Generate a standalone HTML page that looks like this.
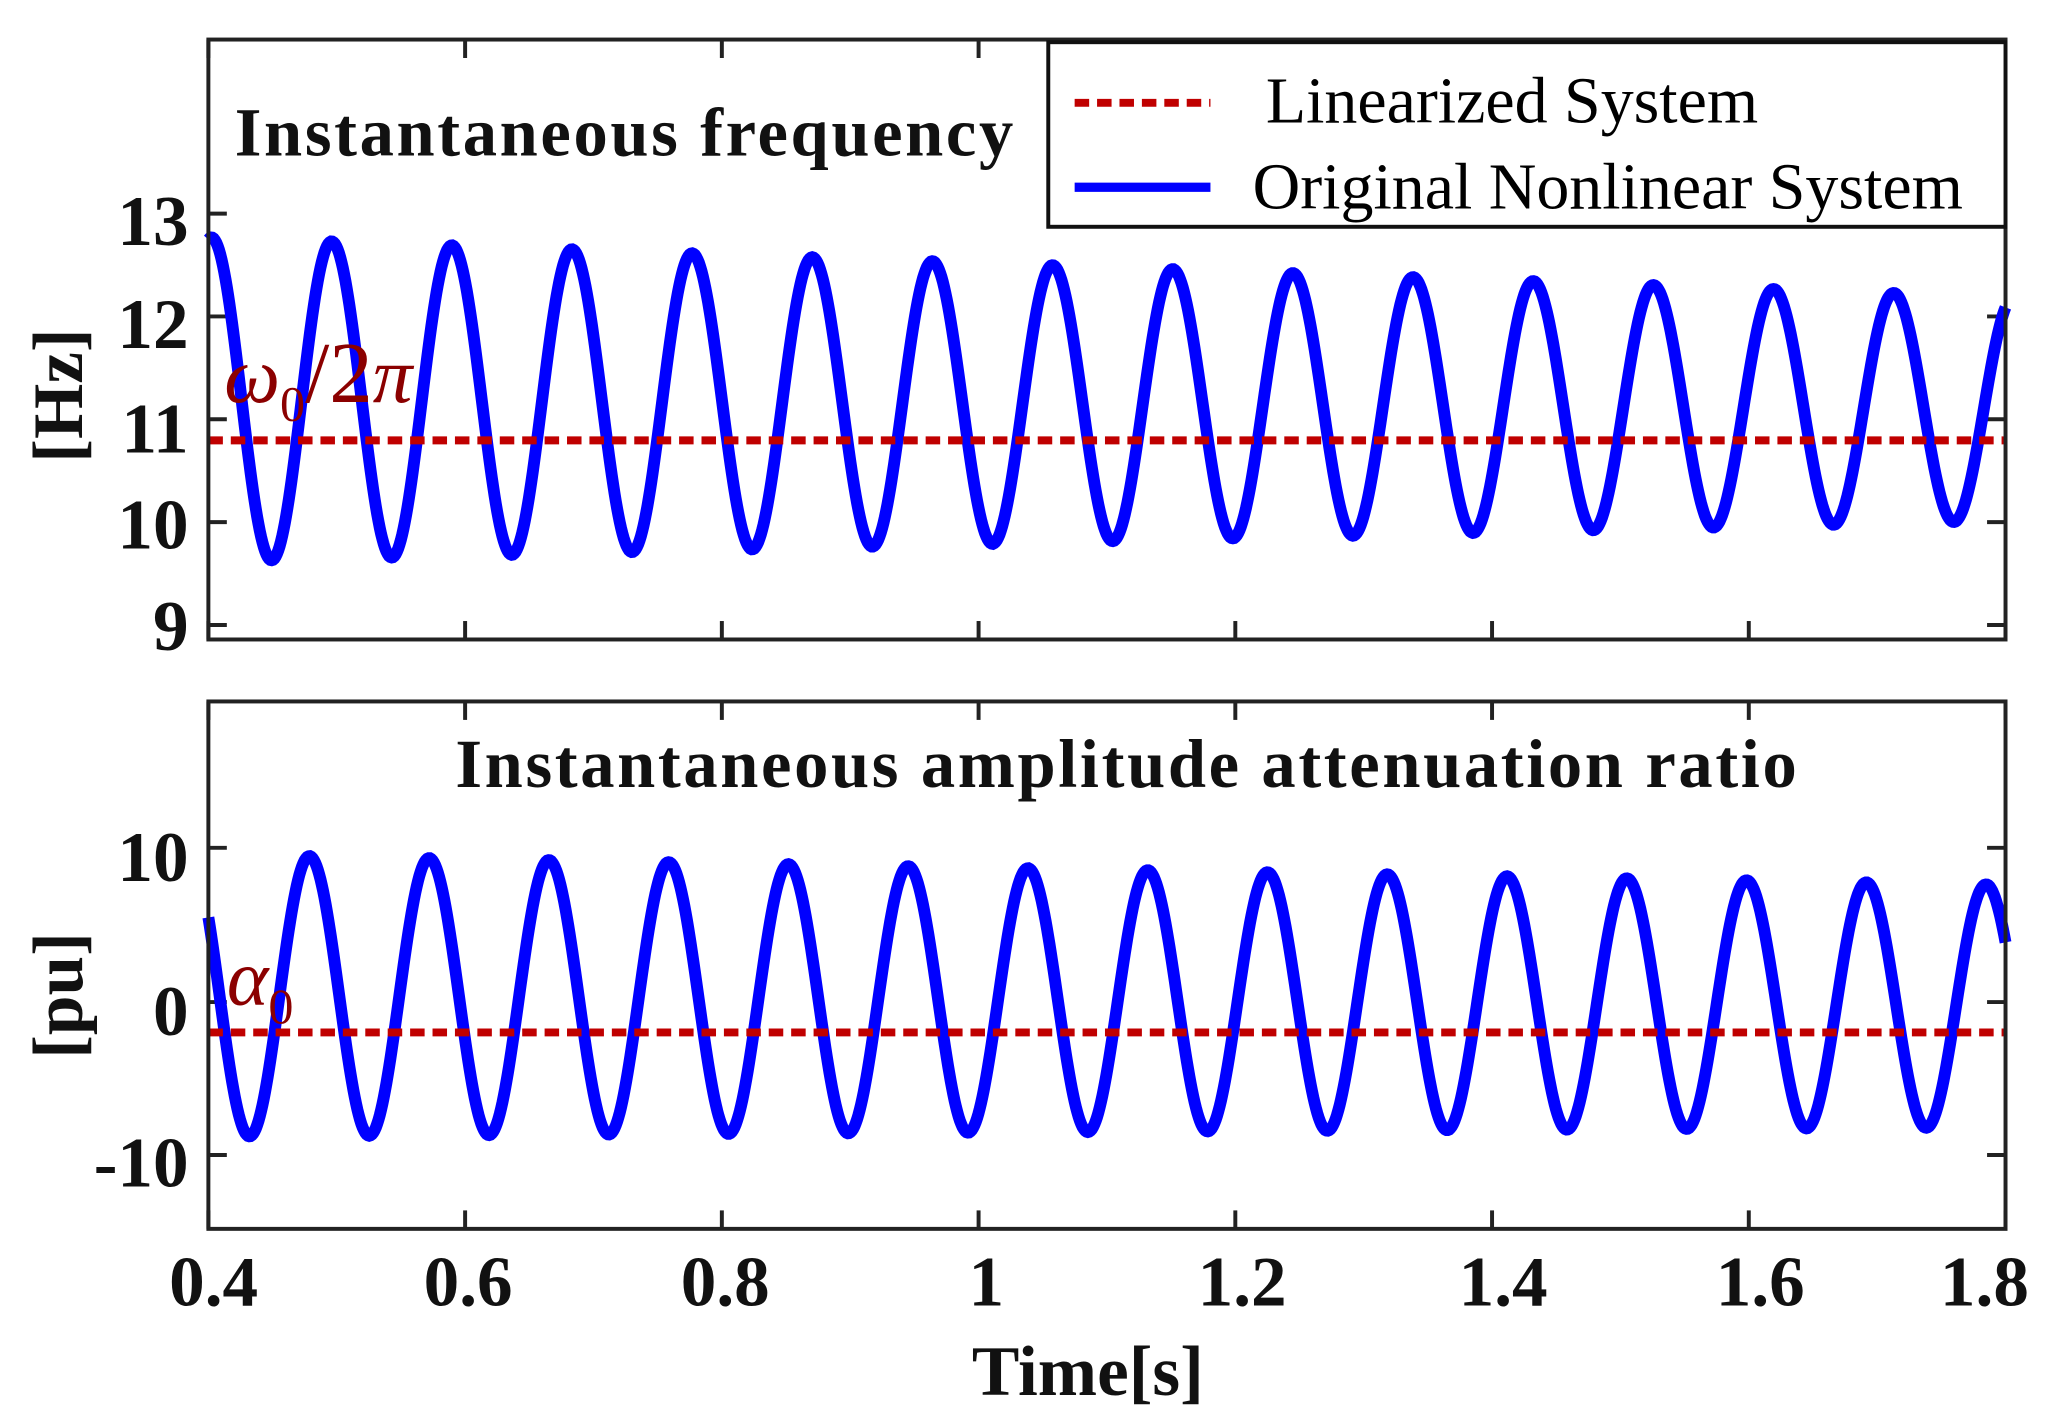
<!DOCTYPE html>
<html><head><meta charset="utf-8"><style>
html,body{margin:0;padding:0;background:#fff}
svg{display:block}
text{font-family:"Liberation Serif",serif}
</style></head><body>
<svg id="s" width="2057" height="1424" viewBox="0 0 1560 1080" xmlns="http://www.w3.org/2000/svg">
<rect width="1560" height="1080" fill="#fff"/>
<g id="g"></g>
<rect x="158" y="30" width="1363" height="455" fill="none" stroke="#222" stroke-width="3"/>
<rect x="158" y="532" width="1363" height="400" fill="none" stroke="#222" stroke-width="3"/>
<g font-weight="bold" fill="#111">
<text x="178" y="118" font-size="52" letter-spacing="2">Instantaneous frequency</text>
<text x="855" y="597" font-size="52" letter-spacing="2" text-anchor="middle">Instantaneous amplitude attenuation ratio</text>
<g text-anchor="end" font-size="54">
<text x="143" y="186">13</text><text x="143" y="264">12</text><text x="143" y="343">11</text><text x="143" y="416">10</text><text x="143" y="493">9</text>
<text x="143" y="668">10</text><text x="143" y="785">0</text><text x="143" y="900">-10</text>
</g>
<g text-anchor="middle" font-size="54">
<text x="162" y="990">0.4</text><text x="355" y="990">0.6</text><text x="550" y="990">0.8</text><text x="748" y="990">1</text><text x="942" y="990">1.2</text><text x="1140" y="990">1.4</text><text x="1335" y="990">1.6</text><text x="1505" y="990">1.8</text>
<text x="825" y="1058">Time[s]</text>
<text transform="translate(62,300) rotate(-90)">[Hz]</text>
<text transform="translate(62,755) rotate(-90)">[pu]</text>
</g>
</g>
<g fill="#8b0000" font-style="italic" font-size="60">
<text x="170" y="305">ω<tspan font-size="38" dy="14" font-style="normal">0</tspan><tspan dy="-14" font-style="normal" font-size="66">/2</tspan>π</text>
<text x="172" y="762">α<tspan font-size="38" dy="14" font-style="normal">0</tspan></text>
</g>
<rect x="795" y="32" width="726" height="140" fill="#fff" stroke="#111" stroke-width="3"/>
<line x1="815" y1="78" x2="918" y2="78" stroke="#c00000" stroke-width="6" stroke-dasharray="11,6"/>
<line x1="815" y1="142" x2="918" y2="142" stroke="#0000ff" stroke-width="7"/>
<text x="960" y="93" font-size="50">Linearized System</text>
<text x="950" y="158" font-size="50">Original Nonlinear System</text>
</svg>
<script>
var g=document.getElementById('g'),NS="http://www.w3.org/2000/svg";
var R=1521,S=(R-158)/7;
function el(t,a){var e=document.createElementNS(NS,t);for(var k in a)e.setAttribute(k,a[k]);g.appendChild(e);return e;}
var ty=[162,240,318,396,474],by=[643,760,876];
ty.concat(by).forEach(function(y){el('line',{x1:158,y1:y,x2:172,y2:y,stroke:'#222','stroke-width':3});el('line',{x1:R-14,y1:y,x2:R,y2:y,stroke:'#222','stroke-width':3});});
for(var i=0;i<=7;i++){var x=158+i*S;
[[30,44],[485,471],[532,546],[932,918]].forEach(function(p){el('line',{x1:x,y1:p[0],x2:x,y2:p[1],stroke:'#222','stroke-width':3});});}
function curve(f){var d='';for(var x=158;x<=R;x+=1){d+=(x==158?'M':'L')+x+','+f(x).toFixed(1);}return d;}
var k=(R-158)/1370;
el('path',{d:curve(function(x){var t=(x-158)/(R-158);var A=123-38*t,c=303+7*t;return c-A*Math.cos(2*Math.PI*(x-158-94*k)/(91.6*k));}),fill:'none',stroke:'#0000ff','stroke-width':9});
el('path',{d:curve(function(x){var t=(x-158)/(R-158);var A=107-15*t,c=755+8*t;return c-A*Math.cos(2*Math.PI*(x-158-77*k)/(91.3*k));}),fill:'none',stroke:'#0000ff','stroke-width':9});
el('line',{x1:158,y1:334,x2:R,y2:334,stroke:'#c00000','stroke-width':6,'stroke-dasharray':'11,6'});
el('line',{x1:158,y1:783,x2:R,y2:783,stroke:'#c00000','stroke-width':6,'stroke-dasharray':'11,6'});
</script>
</body></html>
